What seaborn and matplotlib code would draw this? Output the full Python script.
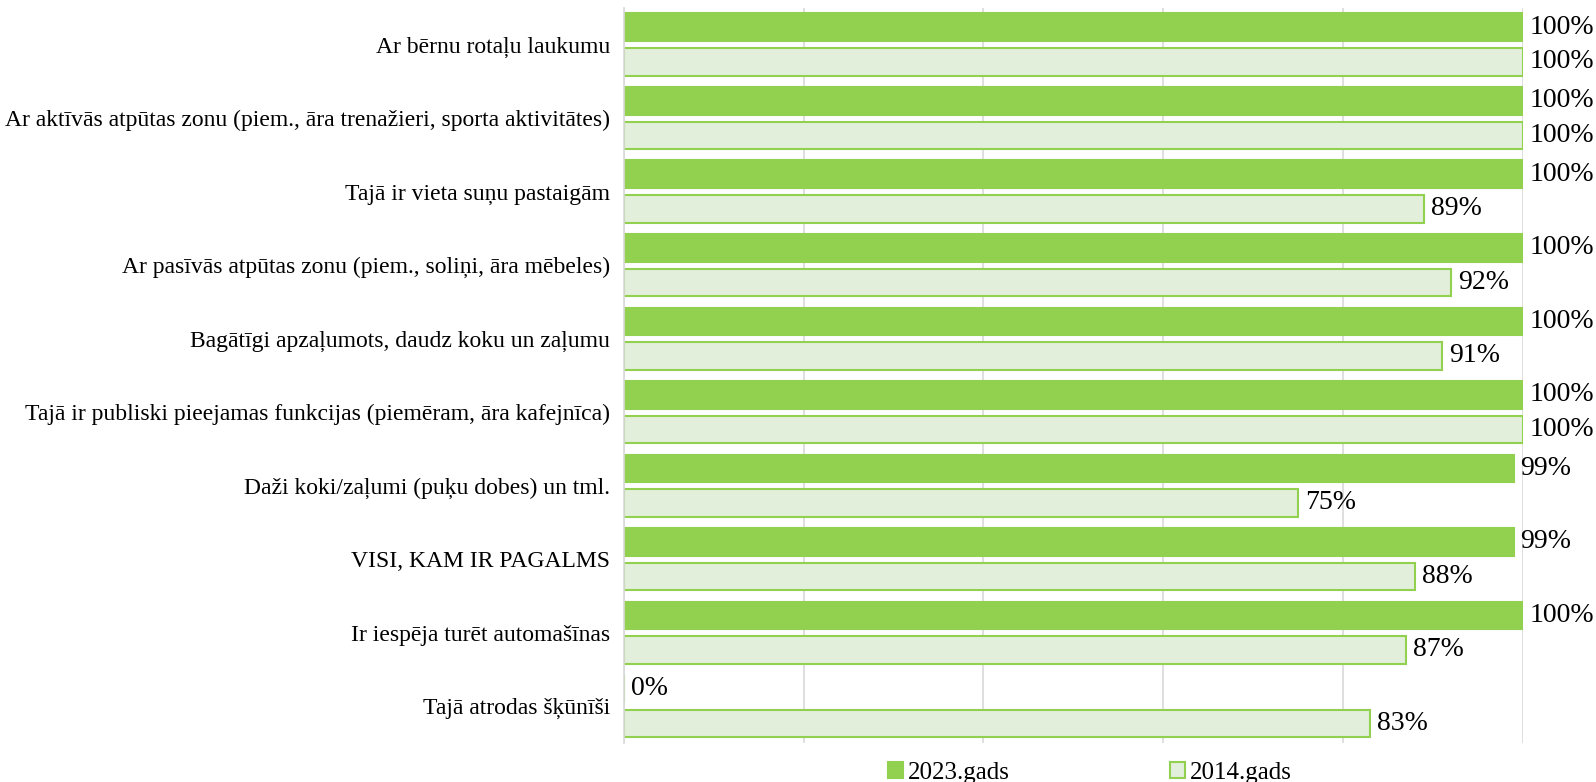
import pandas as pd
import matplotlib.pyplot as plt
import seaborn as sns

categories = [
    "Ar bērnu rotaļu laukumu",
    "Ar aktīvās atpūtas zonu (piem., āra trenažieri, sporta aktivitātes)",
    "Tajā ir vieta suņu pastaigām",
    "Ar pasīvās atpūtas zonu (piem., soliņi, āra mēbeles)",
    "Bagātīgi apzaļumots, daudz koku un zaļumu",
    "Tajā ir publiski pieejamas funkcijas (piemēram, āra kafejnīca)",
    "Daži koki/zaļumi (puķu dobes) un tml.",
    "VISI, KAM IR PAGALMS",
    "Ir iespēja turēt automašīnas",
    "Tajā atrodas šķūnīši",
]
vals_2023 = [100, 100, 100, 100, 100, 100, 99, 99, 100, 0]
vals_2014 = [100, 100, 89, 92, 91, 100, 75, 88, 87, 83]
series = ["2023.gads", "2014.gads"]

dark = "#92D050"
light = "#E2EFDA"

df = pd.DataFrame({
    "cat": categories * 2,
    "val": vals_2023 + vals_2014,
    "year": [series[0]] * len(categories) + [series[1]] * len(categories),
})

sns.set_style("white")
plt.rcParams['font.family'] = ['Liberation Serif', 'DejaVu Serif']
plt.rcParams['text.color'] = 'black'
plt.rcParams['ytick.color'] = 'black'

fig = plt.figure(figsize=(15.96, 7.82), dpi=100)
ax = fig.add_axes([0.391, 0.05, 0.563, 0.94])

sns.barplot(data=df, y="cat", x="val", hue="year", orient="h",
            palette={series[0]: dark, series[1]: light}, saturation=1,
            edgecolor=dark, linewidth=1.5, width=0.94, gap=0.2,
            ax=ax, legend=True)

for cont in ax.containers:
    ax.bar_label(cont, fmt="%.0f%%", padding=5, fontsize=20, color="black")

ax.set_xlim(0, 100)
ax.set_xticks([0, 20, 40, 60, 80, 100])
ax.set_xticklabels([])
ax.grid(axis="x", color="#d9d9d9", linewidth=1.2)
ax.set_axisbelow(True)
ax.set_xlabel("")
ax.set_ylabel("")
ax.tick_params(axis="y", length=0, pad=10, labelsize=17, labelcolor="black")
ax.tick_params(axis="x", length=0)
for s in ["top", "right", "bottom"]:
    ax.spines[s].set_visible(False)
ax.spines["left"].set_color("#d9d9d9")
ax.spines["left"].set_linewidth(1.2)

handles, labels = ax.get_legend_handles_labels()
ax.legend(handles, labels, loc="center", bbox_to_anchor=(0.683, 0.012),
          bbox_transform=fig.transFigure, ncol=2, frameon=False,
          fontsize=18, handlelength=0.6, handleheight=0.6, handletextpad=0.2,
          columnspacing=6.4)

fig.savefig("out.png", dpi=100)
